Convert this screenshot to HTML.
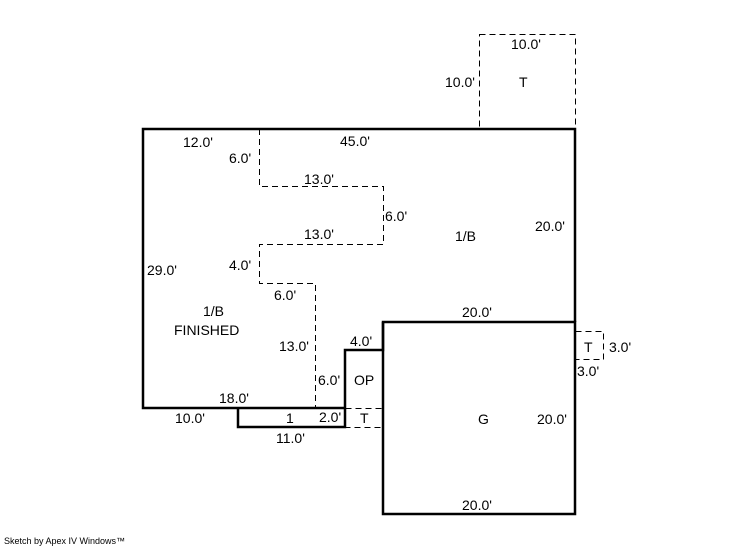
<!DOCTYPE html>
<html><head><style>
body{margin:0;background:#fff;width:746px;height:547px;overflow:hidden}
svg text{font-family:"Liberation Sans",Arial,sans-serif;font-size:14px;fill:#000}
</style></head><body>
<svg width="746" height="547" xmlns="http://www.w3.org/2000/svg">
<g fill="none" stroke="#000" stroke-width="1" stroke-dasharray="6,4">
<rect x="479.5" y="34.5" width="96" height="95"/>
<polyline points="259.5,129 259.5,186.5 383.5,186.5 383.5,244.5 259.5,244.5 259.5,283.5 315.5,283.5 315.5,408"/>
<rect x="345.5" y="408.5" width="38" height="19"/>
<rect x="575.5" y="331.5" width="28" height="28"/>
</g>
<g fill="none" stroke="#000" stroke-width="2.5">
<polyline points="383,322 383,350 345,350 345,408 143,408 143,129 575,129 575,322"/>
<rect x="383" y="322" width="192" height="192"/>
<polyline points="238,408 238,427 345,427 345,408"/>
</g>
<text x="511" y="49">10.0'</text>
<text x="445" y="87">10.0'</text>
<text x="519" y="87">T</text>
<text x="183" y="147">12.0'</text>
<text x="340" y="146">45.0'</text>
<text x="229" y="163">6.0'</text>
<text x="304" y="184">13.0'</text>
<text x="385" y="221">6.0'</text>
<text x="304" y="239">13.0'</text>
<text x="455" y="241">1/B</text>
<text x="535" y="231">20.0'</text>
<text x="147" y="275">29.0'</text>
<text x="229" y="270">4.0'</text>
<text x="274" y="300">6.0'</text>
<text x="203" y="316">1/B</text>
<text x="174" y="335">FINISHED</text>
<text x="462" y="317">20.0'</text>
<text x="279" y="351">13.0'</text>
<text x="350" y="346">4.0'</text>
<text x="584" y="352">T</text>
<text x="609" y="352">3.0'</text>
<text x="577" y="376">3.0'</text>
<text x="318" y="385">6.0'</text>
<text x="354" y="385">OP</text>
<text x="219" y="403">18.0'</text>
<text x="175" y="423">10.0'</text>
<text x="286" y="423">1</text>
<text x="319" y="422">2.0'</text>
<text x="360" y="423">T</text>
<text x="478" y="424">G</text>
<text x="537" y="424">20.0'</text>
<text x="276" y="443">11.0'</text>
<text x="462" y="510">20.0'</text>
<text x="4" y="544" style="font-size:9px">Sketch by Apex IV Windows™</text>
</svg>
</body></html>
